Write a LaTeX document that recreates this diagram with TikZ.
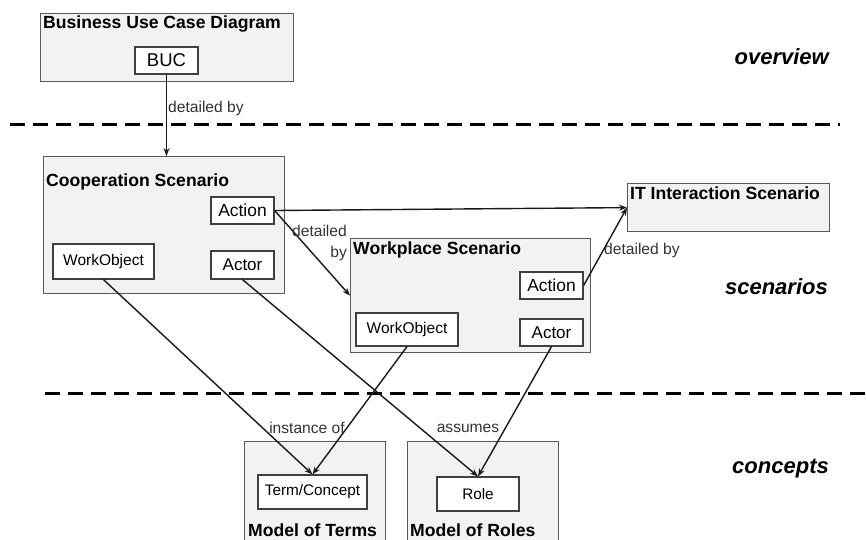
\documentclass[tikz,border=0pt]{standalone}
\usepackage{fontspec}
\setmainfont{Liberation Sans}
\usetikzlibrary{arrows.meta}

\tikzset{
  region/.style={draw=black!65, line width=1.2pt, fill=black!5, inner sep=0pt, anchor=north west},
  part/.style={draw=black!75, line width=1.2pt, fill=white, inner sep=0pt},
  title/.style={anchor=base west, inner sep=0pt, font=\fontsize{17.6}{20}\selectfont\bfseries},
  layer/.style={anchor=base east, inner sep=0pt, font=\fontsize{22}{26}\selectfont\bfseries\itshape},
  rel/.style={draw=black!90, line width=1.4pt, -{Stealth[length=8pt,width=6pt]}},
  lbl/.style={inner sep=0pt, text=black!80, font=\fontsize{15.6}{21}\selectfont},
  sep/.style={line width=3pt, dash pattern=on 15pt off 8pt}
}

\begin{document}
\begin{tikzpicture}[x=1pt,y=-1pt]
\useasboundingbox (0,0) rectangle (866,539);
\clip (0,0) rectangle (866,539);
\fill[white] (0,0) rectangle (866,539);

% layer separators
\draw[sep] (10,124) -- (840,124);
\draw[sep] (45,393) -- (866,393);

% layer names
\node[layer] (lov) at (829,64) {overview};
\node[layer] (lsc) at (828,294) {scenarios};
\node[layer] (lco) at (829,473) {concepts};

% overview: business use case diagram
\node[region, minimum width=253pt, minimum height=68pt] (bucd) at (40,13) {};
\node[title] (bucdt) at (43,28) {Business Use Case Diagram};
\node[part, minimum width=63pt, minimum height=27pt, font=\fontsize{18.5}{20}\selectfont] (buc) at (166.5,60.5) {BUC};

% scenarios
\node[region, minimum width=241pt, minimum height=137pt] (coop) at (43,156) {};
\node[title] (coopt) at (46,186) {Cooperation Scenario};
\node[part, minimum width=63pt, minimum height=27pt, font=\fontsize{17.4}{20}\selectfont] (caction) at (242.5,210.5) {Action};
\node[part, minimum width=101pt, minimum height=35pt, font=\fontsize{15.5}{18}\selectfont] (cwo) at (103.5,261.5) {WorkObject};
\node[part, minimum width=63pt, minimum height=28pt, font=\fontsize{17}{20}\selectfont] (cactor) at (242.5,265) {Actor};

\node[region, minimum width=240pt, minimum height=114pt] (wp) at (350,238) {};
\node[title] (wpt) at (353,254) {Workplace Scenario};
\node[part, minimum width=63pt, minimum height=27pt, font=\fontsize{17.4}{20}\selectfont] (waction) at (551.5,285.5) {Action};
\node[part, minimum width=102pt, minimum height=33pt, font=\fontsize{15.5}{18}\selectfont] (wwo) at (407,329.5) {WorkObject};
\node[part, minimum width=63pt, minimum height=27pt, font=\fontsize{17}{20}\selectfont] (wactor) at (551.5,332.5) {Actor};

\node[region, minimum width=202pt, minimum height=48pt] (it) at (627,183) {};
\node[title] (itt) at (630,199) {IT Interaction Scenario};

% concepts
\node[region, minimum width=141pt, minimum height=120pt] (mterms) at (244,441) {};
\node[title] (mtermst) at (248,536.5) {Model of Terms};
\node[part, minimum width=109pt, minimum height=34pt, font=\fontsize{15.3}{18}\selectfont] (term) at (312.5,492) {Term/Concept};

\node[region, minimum width=151pt, minimum height=120pt] (mroles) at (407,441) {};
\node[title] (mrolest) at (410,536.5) {Model of Roles};
\node[part, minimum width=82pt, minimum height=34pt, font=\fontsize{15.3}{18}\selectfont] (role) at (478,494) {Role};

% relations
\draw[rel] (buc.south) -- (buc.south |- coop.north);
\draw[rel] (caction.east) -- (it.west);
\draw[rel] (caction.east) -- (wp.west);
\draw[rel] (waction.east) -- (it.west);
\draw[rel] (cwo.south) -- (term.north);
\draw[rel] (wwo.south) -- (term.north);
\draw[rel] (cactor.south) -- (role.north);
\draw[rel] (wactor.south) -- (role.north);

% relation labels
\node[lbl, anchor=west] (l1) at (168,108) {detailed by};
\node[lbl, anchor=east, align=right] (l2) at (347,242.5) {detailed\\by};
\node[lbl, anchor=west] (l3) at (604,250) {detailed by};
\node[lbl] (l4) at (307,428) {instance of};
\node[lbl] (l5) at (468,428) {assumes};
\end{tikzpicture}
\end{document}
